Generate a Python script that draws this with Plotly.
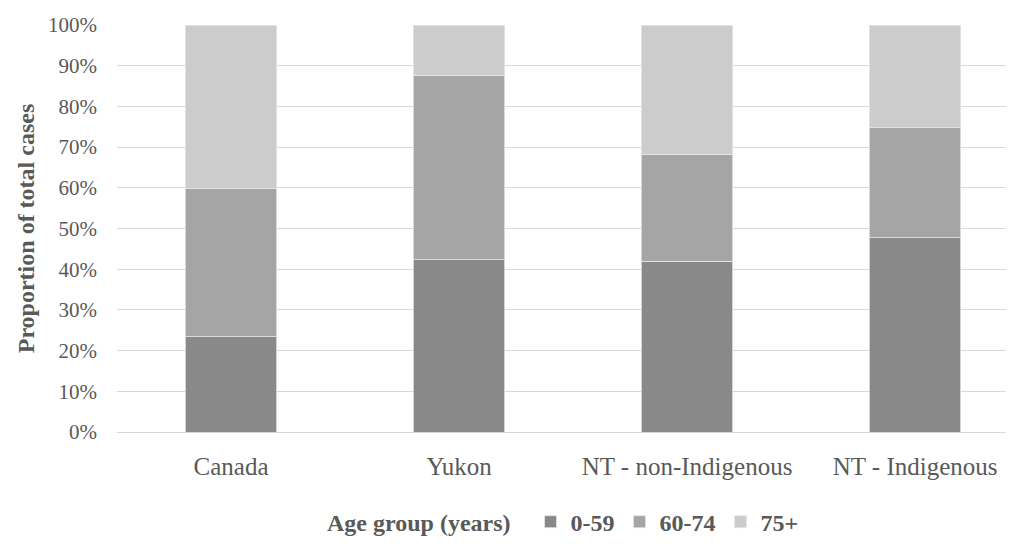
import plotly.graph_objects as go

categories = ["Canada", "Yukon", "NT - non-Indigenous", "NT - Indigenous"]
age_0_59 = [23.4, 42.3, 42.0, 47.7]
age_60_74 = [36.4, 45.4, 26.3, 27.0]
age_75_plus = [40.2, 12.3, 31.7, 25.3]
series_names = ["0-59", "60-74", "75+"]
series_colors = ["#898989", "#a5a5a5", "#cccccc"]

fig = go.Figure()
for name, vals, col in zip(series_names, [age_0_59, age_60_74, age_75_plus], series_colors):
    fig.add_trace(go.Bar(
        x=categories, y=vals, name=name,
        marker=dict(color=col, line=dict(color="#e6e6e6", width=0.8)),
    ))

font_family = "Liberation Serif, Times New Roman, serif"
txt = "#595959"
fig.update_layout(
    barmode="stack",
    bargap=0.6,
    width=1014, height=544,
    margin=dict(l=109, r=10, t=17, b=120, autoexpand=False),
    plot_bgcolor="white", paper_bgcolor="white",
    font=dict(family=font_family, size=22, color=txt),
    showlegend=True,
    legend=dict(
        orientation="h", x=0.5, xanchor="center",
        yref="container", y=0.055, yanchor="middle",
        title=dict(text="<b>Age group (years)</b>  ", side="left",
                   font=dict(family=font_family, size=24, color=txt)),
        font=dict(family=font_family, size=24, color=txt, weight="bold"),
        itemwidth=30, traceorder="normal", tracegroupgap=0,
    ),
    xaxis=dict(
        range=[-0.5, 3.425], automargin=False,
        showgrid=False, showline=True, linecolor="#d9d9d9", linewidth=1,
        ticks="", ticklabelstandoff=12,
        tickfont=dict(family=font_family, size=25, color=txt),
    ),
    yaxis=dict(
        range=[0, 100], dtick=10, ticksuffix="%", automargin=False,
        showgrid=True, gridcolor="#d9d9d9", gridwidth=1,
        zeroline=False, showline=False, ticks="",
        ticklabelstandoff=19,
        tickfont=dict(family=font_family, size=21, color=txt),
        title=dict(text="<b>Proportion of total cases</b>", standoff=6,
                   font=dict(family=font_family, size=24, color=txt)),
    ),
)

fig.write_html("out.html")
